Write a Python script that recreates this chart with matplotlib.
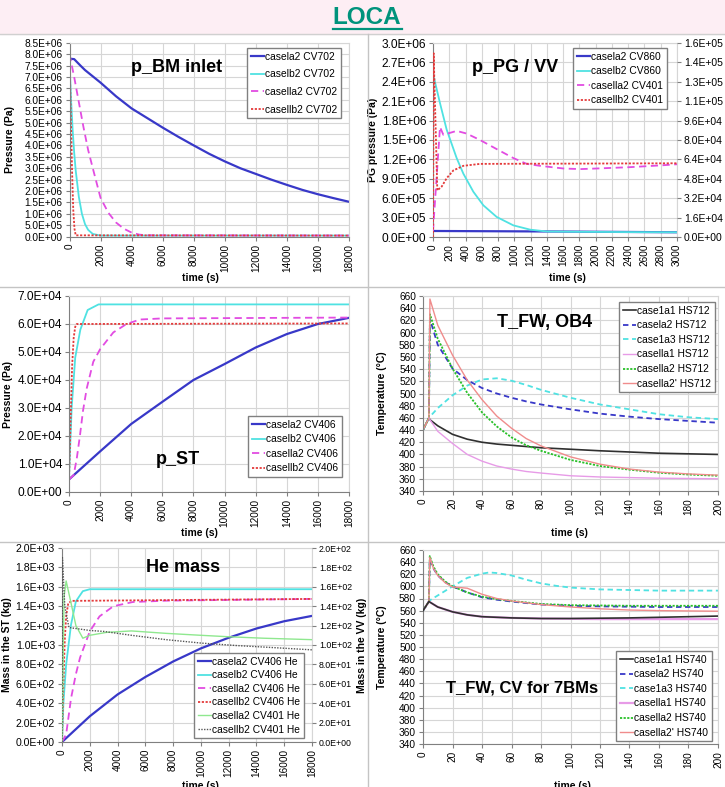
import numpy as np
import matplotlib
matplotlib.use('Agg')
import matplotlib.pyplot as plt
from matplotlib.lines import Line2D
from matplotlib.patches import Rectangle
from matplotlib.ticker import FuncFormatter

plt.rcParams['font.family'] = ['Liberation Sans', 'DejaVu Sans']

W, H = 725, 787

# ---------------- p_BM inlet (CV702) ----------------
t_bm_a2 = [0, 300, 700, 1000, 2000, 3000, 4000, 5000, 6000, 7000, 8000, 9000, 10000,
           11000, 12000, 13000, 14000, 15000, 16000, 17000, 18000]
p_bm_a2 = [7.8e6, 7.78e6, 7.5e6, 7.3e6, 6.75e6, 6.15e6, 5.62e6, 5.2e6, 4.78e6, 4.38e6, 4.0e6,
           3.63e6, 3.3e6, 3.0e6, 2.75e6, 2.5e6, 2.27e6, 2.05e6, 1.86e6, 1.69e6, 1.53e6]
t_bm_b2 = [0, 50, 100, 200, 300, 400, 600, 800, 1000, 1200, 1500, 2000, 18000]
p_bm_b2 = [7.7e6, 6.8e6, 6.0e6, 4.7e6, 3.7e6, 2.9e6, 1.75e6, 1.0e6, 5.5e5, 3e5, 1.2e5, 5e4, 5e4]
t_bm_IIa2 = [0, 300, 600, 900, 1200, 1500, 2000, 2500, 3000, 3500, 4000, 4500, 5000, 18000]
p_bm_IIa2 = [8.0e6, 7.0e6, 5.9e6, 4.8e6, 3.8e6, 3.0e6, 1.7e6, 1.05e6, 6.2e5, 3.5e5, 1.8e5, 9e4, 6e4, 5e4]
t_bm_IIb2 = [0, 80, 160, 240, 320, 400, 18000]
p_bm_IIb2 = [8.0e6, 5.5e6, 3.0e6, 1.2e6, 3.5e5, 6e4, 5e4]

# ---------------- p_PG / VV ----------------
t_pg_a2 = [0, 1500, 3000]
p_pg_a2 = [9.3e4, 8.5e4, 7.3e4]
t_pg_b2 = [5, 86, 168, 291, 373, 496, 619, 783, 988, 1193, 1398, 1800, 2400, 3000]
p_pg_b2 = [2.5e6, 2.07e6, 1.66e6, 1.22e6, 9.8e5, 7.0e5, 4.9e5, 3.1e5, 1.8e5, 1.14e5, 8.5e4,
           8e4, 7.6e4, 7.3e4]
t_vv_IIa2 = [0, 86, 127, 209, 291, 414, 578, 783, 988, 1152, 1316, 1603, 1808, 2013, 2423, 2832, 3000]
p_vv_IIa2 = [5e3, 9.07e4, 8.43e4, 8.59e4, 8.75e4, 8.53e4, 8.0e4, 7.25e4, 6.51e4, 6.03e4, 5.87e4,
             5.65e4, 5.6e4, 5.65e4, 5.76e4, 5.92e4, 6.0e4]
t_vv_IIb2 = [0, 8, 53, 107, 168, 250, 373, 578, 3000]
p_vv_IIb2 = [0, 1.515e5, 3.84e4, 4.16e4, 4.85e4, 5.49e4, 5.87e4, 6.03e4, 6.08e4]

# ---------------- p_ST (CV406) ----------------
t_st_a2 = [0, 1000, 2000, 4000, 6000, 8000, 10000, 12000, 14000, 16000, 18000]
p_st_a2 = [4.5e3, 9.5e3, 14.5e3, 24.3e3, 32.2e3, 40e3, 45.7e3, 51.6e3, 56.4e3, 60e3, 62.2e3]
t_st_b2 = [0, 170, 400, 730, 1200, 1900, 18000]
p_st_b2 = [5e3, 30e3, 48e3, 58e3, 65e3, 67e3, 67e3]
t_st_IIa2 = [0, 300, 500, 700, 900, 1140, 1560, 2000, 2850, 3700, 4560, 6000, 18000]
p_st_IIa2 = [4.5e3, 6e3, 12e3, 20e3, 29e3, 37e3, 46.5e3, 51e3, 57e3, 60e3, 61.6e3, 62e3, 62.3e3]
t_st_IIb2 = [0, 100, 200, 300, 400, 500, 18000]
p_st_IIb2 = [4.5e3, 25e3, 45e3, 55e3, 59e3, 60e3, 60.2e3]

# ---------------- T_FW, OB4 (HS712) ----------------
t_ob_a = [0, 4, 4.7, 10, 20, 30, 40, 50, 60, 70, 80, 100, 120, 140, 160, 180, 200]
T_ob_1a1 = [440, 460, 457, 447, 433, 425, 420, 417, 415, 413, 411, 408.5, 406, 404, 402, 401, 400]
T_ob_a2 = [440, 460, 622, 580, 541, 522, 509, 500, 493, 487, 482, 474, 467, 462, 458, 455, 452]
T_ob_1a3 = [440, 460, 462, 476, 497, 513, 523, 525, 521, 514, 506, 493, 482, 474, 466, 461, 458]
T_ob_IIa1 = [440, 460, 457, 438, 418, 400, 389, 381, 376, 372, 369.5, 365, 363, 362, 361, 360.5, 360]
T_ob_IIa2 = [440, 460, 630, 590, 541, 501, 469, 446, 428, 415, 406, 391, 381, 375, 370, 367, 365]
T_ob_IIa2p = [440, 460, 655, 612, 563, 522, 490, 463, 443, 426, 414, 396, 384, 376, 371, 368, 366]

# ---------------- He mass ----------------
t_he_a2 = [0, 2000, 4000, 6000, 8000, 10000, 12000, 14000, 16000, 18000]
m_he_a2 = [0, 265, 490, 670, 830, 965, 1075, 1170, 1245, 1300]
t_he_b2 = [0, 100, 300, 650, 1000, 1500, 2000, 18000]
m_he_b2 = [0, 400, 800, 1210, 1450, 1555, 1575, 1575]
t_he_IIa2 = [0, 300, 650, 1000, 1300, 2000, 2700, 3700, 5100, 7500, 18000]
m_he_IIa2 = [0, 80, 450, 700, 870, 1140, 1295, 1400, 1443, 1457, 1475]
t_he_IIb2 = [0, 100, 200, 300, 450, 700, 18000]
m_he_IIb2 = [0, 600, 1050, 1300, 1430, 1455, 1475]
t_vv_he_IIa2 = [0, 150, 300, 700, 1000, 1500, 2000, 3200, 5000, 7500, 10000, 12000, 14500, 18000]
m_vv_he_IIa2 = [0, 150, 166, 140, 120, 107, 110, 113, 114.5, 112, 110, 108.5, 107, 105.5]
t_vv_he_IIb2 = [0, 30, 200, 500, 1000, 2000, 3000, 5000, 7500, 10000, 12500, 15000, 18000]
m_vv_he_IIb2 = [0, 190, 140, 118, 117, 115, 114, 110, 105.5, 102, 99.5, 97.5, 95]

# ---------------- T_FW, CV for 7BMs (HS740) ----------------
t_cv = [0, 4, 4.6, 7, 10, 15, 20, 30, 40, 50, 60, 80, 100, 120, 140, 160, 180, 200]
T_cv_a2 = [560, 575, 645, 630, 618, 607, 600, 590, 582, 578, 575, 570, 568, 567, 566.5, 566, 566, 566]
T_cv_IIa2 = [560, 575, 650, 633, 620, 608, 600, 590, 583, 579, 576, 571, 569, 568.5, 568, 568, 568, 568]
t_cv_p = [0, 4, 4.6, 7, 10, 15, 20, 25, 30, 35, 40, 50, 60, 80, 100, 120, 140, 160, 180, 200]
T_cv_IIa2p = [560, 575, 648, 630, 618, 606, 599, 598, 597, 592, 587, 580, 576, 570, 566, 563, 561,
              560, 559.5, 559]
t_cv_1a3 = [0, 4, 4.6, 10, 20, 30, 40, 45, 50, 60, 70, 80, 90, 100, 120, 140, 160, 180, 200]
T_cv_1a3 = [560, 575, 577, 585, 600, 614, 621, 623, 622, 618, 611, 605, 601, 598, 595, 594, 593, 593, 593]
t_cv_1 = [0, 4, 10, 20, 30, 40, 60, 80, 100, 120, 140, 160, 180, 200]
T_cv_1a1 = [560, 575, 566, 558, 553, 550, 548, 547, 547, 547.5, 548, 549, 550, 551]
T_cv_IIa1 = [560, 575, 566, 558, 553, 550, 548, 547, 546.5, 546, 546, 546, 546, 546]

BLUE = '#3838c8'
CYAN = '#4fe2e2'
MAG = '#e24ce2'
RED = '#e43a3a'
sci = FuncFormatter(lambda v, p: '%.1E' % v)


def make_axes(fig, l, t, r, b):
    return fig.add_axes([l / W, 1 - b / H, (r - l) / W, (b - t) / H])


def style(ax, xmax, xstep, ymin, ymax, ystep, use_sci=True, ysize=7.3):
    ax.set_xlim(0, xmax)
    ax.set_ylim(ymin, ymax)
    ax.set_xticks(np.arange(0, xmax + 1, xstep))
    ax.set_yticks(np.arange(ymin, ymax + ystep / 2, ystep))
    ax.grid(True, color='#d6d6d6', lw=0.8)
    ax.set_axisbelow(True)
    ax.tick_params(length=3, color='#808080', pad=2)
    ax.tick_params(axis='x', labelrotation=90, labelsize=7.2)
    ax.tick_params(axis='y', labelsize=ysize)
    if use_sci:
        ax.yaxis.set_major_formatter(sci)
    for s in ax.spines.values():
        s.set_color('#d6d6d6')
    ax.spines['left'].set_color('#808080')
    ax.spines['bottom'].set_color('#808080')


def right_axis(ax, ymax, ystep, ysize):
    ax2 = ax.twinx()
    ax2.set_ylim(0, ymax)
    ax2.set_yticks(np.arange(0, ymax + ystep / 2, ystep))
    ax2.yaxis.set_major_formatter(sci)
    ax2.tick_params(labelsize=ysize, length=3, color='#808080', pad=2)
    for s in ax2.spines.values():
        s.set_visible(False)
    return ax2


def labels(ax, ylab, yx, xx, xy):
    ax.set_ylabel(ylab, fontsize=7.5, fontweight='bold')
    ax.yaxis.set_label_coords(yx, 0.5)
    ax.set_xlabel('time (s)', fontsize=7.5, fontweight='bold')
    ax.xaxis.set_label_coords(xx, xy)


def legend(ax, handles, r, t, spacing=0.45):
    ax.legend(handles=handles, loc='upper right', bbox_to_anchor=(r / W, 1 - t / H),
              bbox_transform=ax.figure.transFigure, borderaxespad=0, fontsize=7.4,
              fancybox=False, edgecolor='#808080', framealpha=1, borderpad=0.35,
              handlelength=1.3, handletextpad=0.1, labelspacing=spacing)


def title(fig, x, y, s, size=13):
    fig.text(x / W, 1 - y / H, s, fontsize=size, fontweight='bold', ha='center', va='center')


fig = plt.figure(figsize=(W / 100, H / 100), dpi=100)
fig.patches.append(Rectangle((0, 1 - 34 / H), 1, 34 / H, transform=fig.transFigure,
                             color='#fdeef4', zorder=0))
fig.text(367 / W, 1 - 17 / H, 'LOCA', fontsize=17.5, fontweight='bold', color='#00937c',
         ha='center', va='center')
fig.add_artist(Line2D([333 / W, 402 / W], [1 - 28.5 / H] * 2, color='#00937c', lw=1.6))
fig.add_artist(Line2D([0, 1], [1 - 34 / H] * 2, color='#d0d0d0', lw=1))
fig.add_artist(Line2D([368 / W] * 2, [0, 1 - 34 / H], color='#c4c4c4', lw=1))
fig.add_artist(Line2D([0, 1], [1 - 287 / H] * 2, color='#c4c4c4', lw=1))
fig.add_artist(Line2D([0, 1], [1 - 542 / H] * 2, color='#c4c4c4', lw=1))

# panel 1
ax = make_axes(fig, 69.5, 42.7, 349, 236.7)
style(ax, 18000, 2000, 0, 8.5e6, 5e5)
h = [ax.plot(t_bm_a2, p_bm_a2, color=BLUE, lw=1.6, label='casela2 CV702')[0],
     ax.plot(t_bm_b2, p_bm_b2, color=CYAN, lw=1.3, label='caselb2 CV702')[0],
     ax.plot(t_bm_IIa2, p_bm_IIa2, color=MAG, lw=1.3, dashes=(4, 2.5), label='casella2 CV702')[0],
     ax.plot(t_bm_IIb2, p_bm_IIb2, color=RED, lw=1.3, dashes=(1.2, 0.9), label='casellb2 CV702')[0]]
labels(ax, 'Pressure (Pa)', -0.195, 0.467, -0.187)
legend(ax, h, 341, 48, spacing=0.75)
title(fig, 177, 67, 'p_BM inlet')

# panel 2
ax = make_axes(fig, 433, 43, 677, 237)
style(ax, 3000, 200, 0, 3.0e6, 3e5, ysize=8.6)
ax2 = right_axis(ax, 1.6e5, 1.6e4, 7.5)
h = [ax.plot(t_pg_a2, p_pg_a2, color=BLUE, lw=1.6, label='casela2 CV860')[0],
     ax.plot(t_pg_b2, p_pg_b2, color=CYAN, lw=1.3, label='caselb2 CV860')[0],
     ax2.plot(t_vv_IIa2, p_vv_IIa2, color=MAG, lw=1.3, dashes=(4, 2.5), label='casella2 CV401')[0],
     ax2.plot(t_vv_IIb2, p_vv_IIb2, color=RED, lw=1.3, dashes=(1.2, 0.9), label='casellb2 CV401')[0]]
labels(ax, 'PG pressure (Pa)', -0.225, 0.55, -0.187)
legend(ax2, h, 667, 48)
title(fig, 515, 67, 'p_PG / VV')

# panel 3
ax = make_axes(fig, 69, 296, 349, 492)
style(ax, 18000, 2000, 0, 7.0e4, 1e4, ysize=8.6)
h = [ax.plot(t_st_a2, p_st_a2, color=BLUE, lw=1.6, label='casela2 CV406')[0],
     ax.plot(t_st_b2, p_st_b2, color=CYAN, lw=1.3, label='caselb2 CV406')[0],
     ax.plot(t_st_IIa2, p_st_IIa2, color=MAG, lw=1.3, dashes=(4, 2.5), label='casella2 CV406')[0],
     ax.plot(t_st_IIb2, p_st_IIb2, color=RED, lw=1.3, dashes=(1.2, 0.9), label='casellb2 CV406')[0]]
labels(ax, 'Pressure (Pa)', -0.2, 0.467, -0.184)
legend(ax, h, 342, 416)
title(fig, 178, 460, 'p_ST')

# panel 4
ax = make_axes(fig, 423, 296, 718, 491)
style(ax, 200, 20, 340, 660, 20, use_sci=False)
h = [ax.plot(t_ob_a, T_ob_1a1, color='#303030', lw=1.2, label='case1a1 HS712')[0],
     ax.plot(t_ob_a, T_ob_a2, color=BLUE, lw=1.3, dashes=(3, 2), label='casela2 HS712')[0],
     ax.plot(t_ob_a, T_ob_1a3, color=CYAN, lw=1.3, dashes=(3, 2), label='case1a3 HS712')[0],
     ax.plot(t_ob_a, T_ob_IIa1, color='#e79be7', lw=1.0, label='casella1 HS712')[0],
     ax.plot(t_ob_a, T_ob_IIa2, color='#28c028', lw=1.3, dashes=(1.2, 0.8), label='casella2 HS712')[0],
     ax.plot(t_ob_a, T_ob_IIa2p, color='#f08c8c', lw=1.0, label="casella2' HS712")[0]]
labels(ax, 'Temperature (°C)', -0.122, 0.498, -0.19)
legend(ax, h, 715, 302)
title(fig, 545, 322, 'T_FW, OB4')

# panel 5
ax = make_axes(fig, 62, 548, 312, 742)
style(ax, 18000, 2000, 0, 2000, 200, ysize=7.6)
ax2 = right_axis(ax, 200, 20, 6.3)
h = [ax.plot(t_he_a2, m_he_a2, color=BLUE, lw=1.6, label='casela2 CV406 He')[0],
     ax.plot(t_he_b2, m_he_b2, color=CYAN, lw=1.3, label='caselb2 CV406 He')[0],
     ax.plot(t_he_IIa2, m_he_IIa2, color=MAG, lw=1.3, dashes=(4, 2.5), label='casella2 CV406 He')[0],
     ax.plot(t_he_IIb2, m_he_IIb2, color=RED, lw=1.3, dashes=(1.2, 0.9), label='casellb2 CV406 He')[0],
     ax2.plot(t_vv_he_IIa2, m_vv_he_IIa2, color='#8fe88f', lw=1.0, label='casella2 CV401 He')[0],
     ax2.plot(t_vv_he_IIb2, m_vv_he_IIb2, color='#555555', lw=1.0, dashes=(1, 1),
              label='casellb2 CV401 He')[0]]
labels(ax, 'Mass in the ST (kg)', -0.2, 0.552, -0.201)
ax2.set_ylabel('Mass in the VV (kg)', fontsize=7.5, fontweight='bold')
ax2.yaxis.set_label_coords(1.18, 0.5)
legend(ax2, h, 304, 653, spacing=0.35)
title(fig, 183, 567, 'He mass')

# panel 6
ax = make_axes(fig, 423, 550, 718, 744)
style(ax, 200, 20, 340, 660, 20, use_sci=False)
h = [ax.plot(t_cv_1, T_cv_1a1, color='#303030', lw=1.2, label='case1a1 HS740', zorder=3)[0],
     ax.plot(t_cv, T_cv_a2, color=BLUE, lw=1.3, dashes=(3, 2), label='casela2 HS740')[0],
     ax.plot(t_cv_1a3, T_cv_1a3, color=CYAN, lw=1.3, dashes=(3, 2), label='case1a3 HS740')[0],
     ax.plot(t_cv_1, T_cv_IIa1, color='#e79be7', lw=1.6, label='casella1 HS740')[0],
     ax.plot(t_cv, T_cv_IIa2, color='#28c028', lw=1.3, dashes=(1.2, 0.8), label='casella2 HS740')[0],
     ax.plot(t_cv_p, T_cv_IIa2p, color='#f08c8c', lw=1.0, label="casella2' HS740")[0]]
labels(ax, 'Temperature (°C)', -0.122, 0.505, -0.191)
legend(ax, h, 712, 651)
title(fig, 522, 688, 'T_FW, CV for 7BMs', size=12)

fig.savefig('out.png', dpi=100)
